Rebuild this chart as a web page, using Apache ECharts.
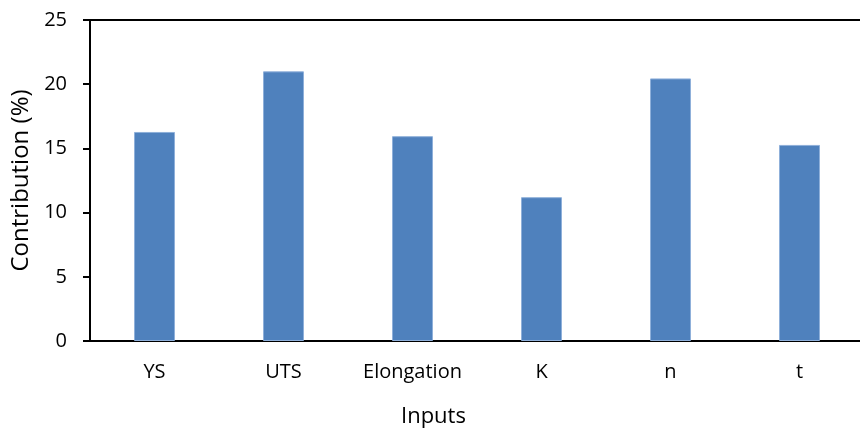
<!DOCTYPE html>
<html><head><meta charset="utf-8">
<script src="https://cdn.jsdelivr.net/npm/echarts@6/dist/echarts.min.js"></script>
<style>html,body{margin:0;padding:0;background:#fff}#c{width:860px;height:434px}</style>
</head><body><div id="c"></div>
<script>
var categories = ['YS', 'UTS', 'Elongation', 'K', 'n', 't'];
var contribution = [16.28, 21.0, 15.95, 11.2, 20.45, 15.27];
var yTicks = [0, 5, 10, 15, 20, 25];
var xTitle = 'Inputs';
var yTitle = 'Contribution (%)';

var FONT = 'Open Sans';
var chart = echarts.init(document.getElementById('c'));
chart.setOption({
  animation: false,
  textStyle: {fontFamily: FONT},
  grid: {left: 90, width: 774, top: 20, bottom: 93, show: true, borderColor: '#000', borderWidth: 2, containLabel: false, outerBoundsMode: 'none'},
  graphic: [{type: 'text', left: 401, top: 406, style: {text: xTitle, font: '22px "Open Sans"', fill: '#000'}}],
  xAxis: {
    type: 'category', data: categories,
    axisLine: {lineStyle: {color: '#000', width: 2}},
    axisTick: {show: false},
    axisLabel: {color: '#000', fontSize: 20, margin: 21, fontFamily: FONT, interval: 0, hideOverlap: false}
  },
  yAxis: {
    type: 'value', min: yTicks[0], max: yTicks[yTicks.length - 1], interval: 5,
    name: yTitle, nameLocation: 'middle', nameGap: 55,
    nameTextStyle: {color: '#000', fontSize: 24, fontFamily: FONT},
    axisLine: {show: true, lineStyle: {color: '#000', width: 2}},
    axisTick: {show: true, length: 7, lineStyle: {color: '#000', width: 2}},
    splitLine: {show: false},
    axisLabel: {color: '#000', fontSize: 20, margin: 23, fontFamily: FONT}
  },
  series: [{
    type: 'bar', data: contribution, barWidth: 41,
    itemStyle: {color: '#4F81BD', borderColor: '#8fb0da', borderWidth: 1}
  }]
});
</script></body></html>
